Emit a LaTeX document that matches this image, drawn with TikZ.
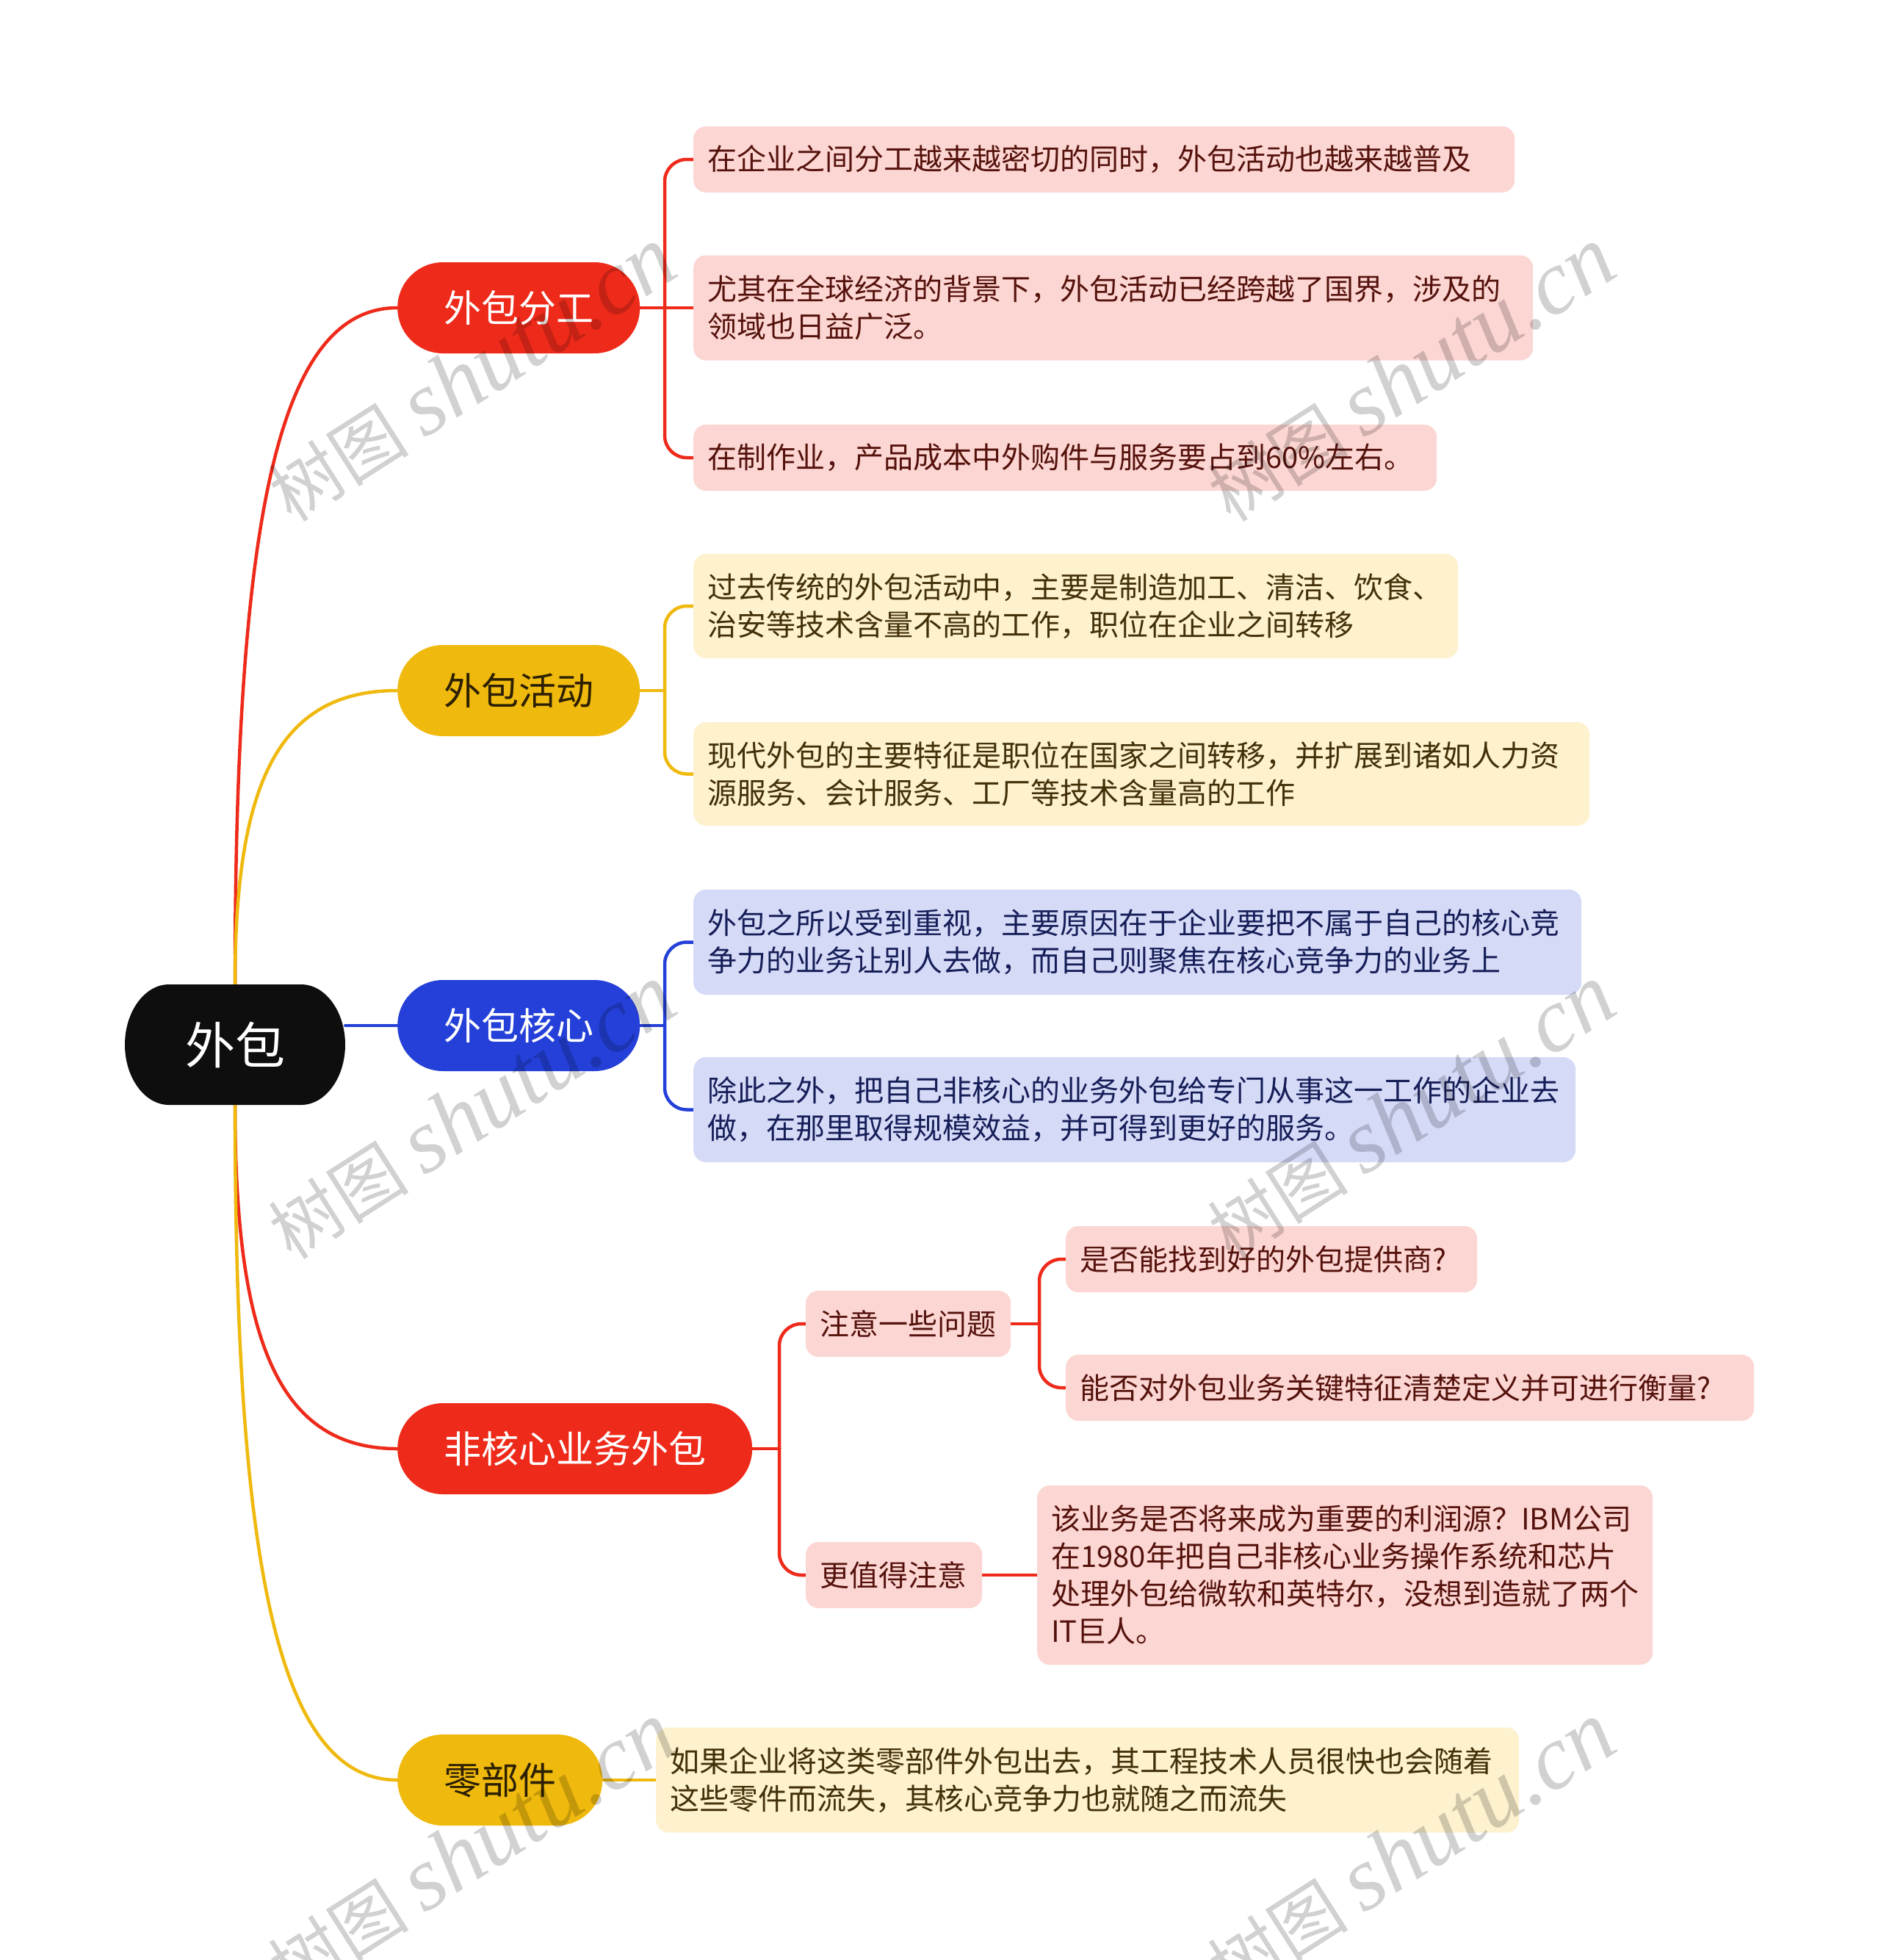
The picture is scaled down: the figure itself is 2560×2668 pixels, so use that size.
\documentclass[tikz,border=0pt]{standalone}
\usepackage{fontspec}
\setmainfont{Noto Sans CJK SC}
\newfontfamily\wmlatin{Liberation Serif}
\usetikzlibrary{calc}
\pgfdeclarelayer{background}
\pgfdeclarelayer{foreground}
\pgfsetlayers{background,main,foreground}
\definecolor{cRed}{RGB}{238,42,26}
\definecolor{cYel}{RGB}{239,185,13}
\definecolor{cBlue}{RGB}{36,64,216}
\definecolor{cRoot}{RGB}{14,14,14}
\definecolor{fRed}{RGB}{252,214,211}
\definecolor{fYel}{RGB}{253,241,206}
\definecolor{fBlue}{RGB}{213,218,247}
\definecolor{tRed}{RGB}{85,18,12}
\definecolor{tYel}{RGB}{66,48,8}
\definecolor{tBlue}{RGB}{22,30,88}
\definecolor{tYelMain}{RGB}{45,32,2}
\begin{document}
\begin{tikzpicture}[x=1pt,y=-1pt,
  lvlone/.style={rounded corners=62pt, minimum height=124pt, inner sep=0pt,
    font=\fontsize{51}{60}\selectfont, anchor=west},
  leafbox/.style={rounded corners=17pt, inner xsep=19pt, inner ysep=0pt, align=left,
    font=\fontsize{40}{51}\selectfont, anchor=west},
  leafR/.style={leafbox, fill=fRed, text=tRed},
  leafY/.style={leafbox, fill=fYel, text=tYel},
  leafB/.style={leafbox, fill=fBlue, text=tBlue},
  conn/.style={line width=4.5pt, line cap=round},
  lineR/.style={conn, draw=cRed},
  lineY/.style={conn, draw=cYel},
  lineB/.style={conn, draw=cBlue},
  wmark/.style={text=black, opacity=0.18, rotate=32.5, inner sep=0pt}
]
\useasboundingbox (0,0) rectangle (2560,2668);

% root
\fill[cRoot] (230,1340) -- (410,1340) .. controls (443,1340) and (470,1377) .. (470,1422)
  .. controls (470,1467) and (443,1504) .. (410,1504) -- (230,1504)
  .. controls (197,1504) and (170,1467) .. (170,1422)
  .. controls (170,1377) and (197,1340) .. (230,1340) -- cycle;
\node[minimum width=300pt, minimum height=164pt, inner sep=0pt, text=white,
  font=\fontsize{68}{80}\selectfont] (r) at (320,1422) {外包};

% level one
\node[lvlone, fill=cRed, text=white, minimum width=330pt] (c1) at (541,419) {外包分工};
\node[lvlone, fill=cYel, text=tYelMain, minimum width=330pt] (c2) at (541,940) {外包活动};
\node[lvlone, fill=cBlue, text=white, minimum width=330pt] (c3) at (541,1396) {外包核心};
\node[lvlone, fill=cRed, text=white, minimum width=483pt] (c4) at (541,1972) {非核心业务外包};
\node[lvlone, fill=cYel, text=tYelMain, minimum width=279pt] (c5) at (541,2423) {零部件};

% leaves
\node[leafR, text width=1080pt, minimum height=90pt] (l1) at (944,217) {在企业之间分工越来越密切的同时，外包活动也越来越普及};
\node[leafR, text width=1105pt, minimum height=143pt] (l2) at (944,419) {尤其在全球经济的背景下，外包活动已经跨越了国界，涉及的\\领域也日益广泛。};
\node[leafR, text width=974pt, minimum height=90pt] (l3) at (944,623) {在制作业，产品成本中外购件与服务要占到60\%左右。};
\node[leafY, text width=1003pt, minimum height=142pt] (l4) at (944,825) {过去传统的外包活动中，主要是制造加工、清洁、饮食、\\治安等技术含量不高的工作，职位在企业之间转移};
\node[leafY, text width=1182pt, minimum height=141pt] (l5) at (944,1053.5) {现代外包的主要特征是职位在国家之间转移，并扩展到诸如人力资\\源服务、会计服务、工厂等技术含量高的工作};
\node[leafB, text width=1171pt, minimum height=143pt] (l6) at (944,1282.5) {外包之所以受到重视，主要原因在于企业要把不属于自己的核心竞\\争力的业务让别人去做，而自己则聚焦在核心竞争力的业务上};
\node[leafB, text width=1163pt, minimum height=143pt] (l7) at (944,1510.5) {除此之外，把自己非核心的业务外包给专门从事这一工作的企业去\\做，在那里取得规模效益，并可得到更好的服务。};
\node[leafR, text width=241pt, minimum height=90pt] (l8) at (1097,1802) {注意一些问题};
\node[leafR, text width=202pt, minimum height=90pt] (l9) at (1097,2144) {更值得注意};
\node[leafR, text width=522pt, minimum height=90pt] (l10) at (1451,1714) {是否能找到好的外包提供商?};
\node[leafR, text width=899pt, minimum height=90pt] (l11) at (1451,1889) {能否对外包业务关键特征清楚定义并可进行衡量?};
\node[leafR, text width=800pt, minimum height=244pt] (l12) at (1412,2144) {该业务是否将来成为重要的利润源？IBM公司\\在1980年把自己非核心业务操作系统和芯片\\处理外包给微软和英特尔，没想到造就了两个\\IT巨人。};
\node[leafY, text width=1137pt, minimum height=143pt] (l13) at (893,2423) {如果企业将这类零部件外包出去，其工程技术人员很快也会随着\\这些零件而流失，其核心竞争力也就随之而流失};

% connectors
\begin{pgfonlayer}{background}
\fill[white] (0,0) rectangle (2560,2668);
\draw[lineR] (r.north) .. controls (320,700) and (380,419) .. (c1.west);
\draw[lineY] (r.north) .. controls (320,1064) and (380,940) .. (c2.west);
\draw[lineB] (r.east |- c3.west) -- (c3.west);
\draw[lineR] (r.south) .. controls (320,1827) and (380,1972) .. (c4.west);
\draw[lineY] (r.south) .. controls (320,2138) and (380,2423) .. (c5.west);

\coordinate (b1) at (905,419);
\draw[lineR] (c1.east) -- (b1) -- (l2.west);
\draw[lineR, rounded corners=30pt] (b1) |- (l1.west);
\draw[lineR, rounded corners=30pt] (b1) |- (l3.west);

\coordinate (b2) at (905,940);
\draw[lineY] (c2.east) -- (b2);
\draw[lineY, rounded corners=30pt] (b2) |- (l4.west);
\draw[lineY, rounded corners=30pt] (b2) |- (l5.west);

\coordinate (b3) at (905,1396);
\draw[lineB] (c3.east) -- (b3);
\draw[lineB, rounded corners=30pt] (b3) |- (l6.west);
\draw[lineB, rounded corners=30pt] (b3) |- (l7.west);

\coordinate (b4) at (1061,1972);
\draw[lineR] (c4.east) -- (b4);
\draw[lineR, rounded corners=30pt] (b4) |- (l8.west);
\draw[lineR, rounded corners=30pt] (b4) |- (l9.west);

\coordinate (b5) at (1415,1802);
\draw[lineR] (l8.east) -- (b5);
\draw[lineR, rounded corners=30pt] (b5) |- (l10.west);
\draw[lineR, rounded corners=30pt] (b5) |- (l11.west);

\draw[lineR] (l9.east) -- (l12.west);
\draw[lineY] (c5.east) -- (l13.west);
\end{pgfonlayer}

% watermarks
\begin{pgfonlayer}{foreground}
\foreach \wx/\wy [count=\i] in {642/510, 1921/510, 642/1514, 1921/1514, 642/2518, 1921/2518}{
  \node[wmark] (wm\i) at (\wx,\wy) {{\fontsize{96}{98}\selectfont 树图}\hspace{22pt}{\wmlatin\itshape\fontsize{124}{130}\selectfont shutu.cn}};
}
\end{pgfonlayer}
\end{tikzpicture}
\end{document}
